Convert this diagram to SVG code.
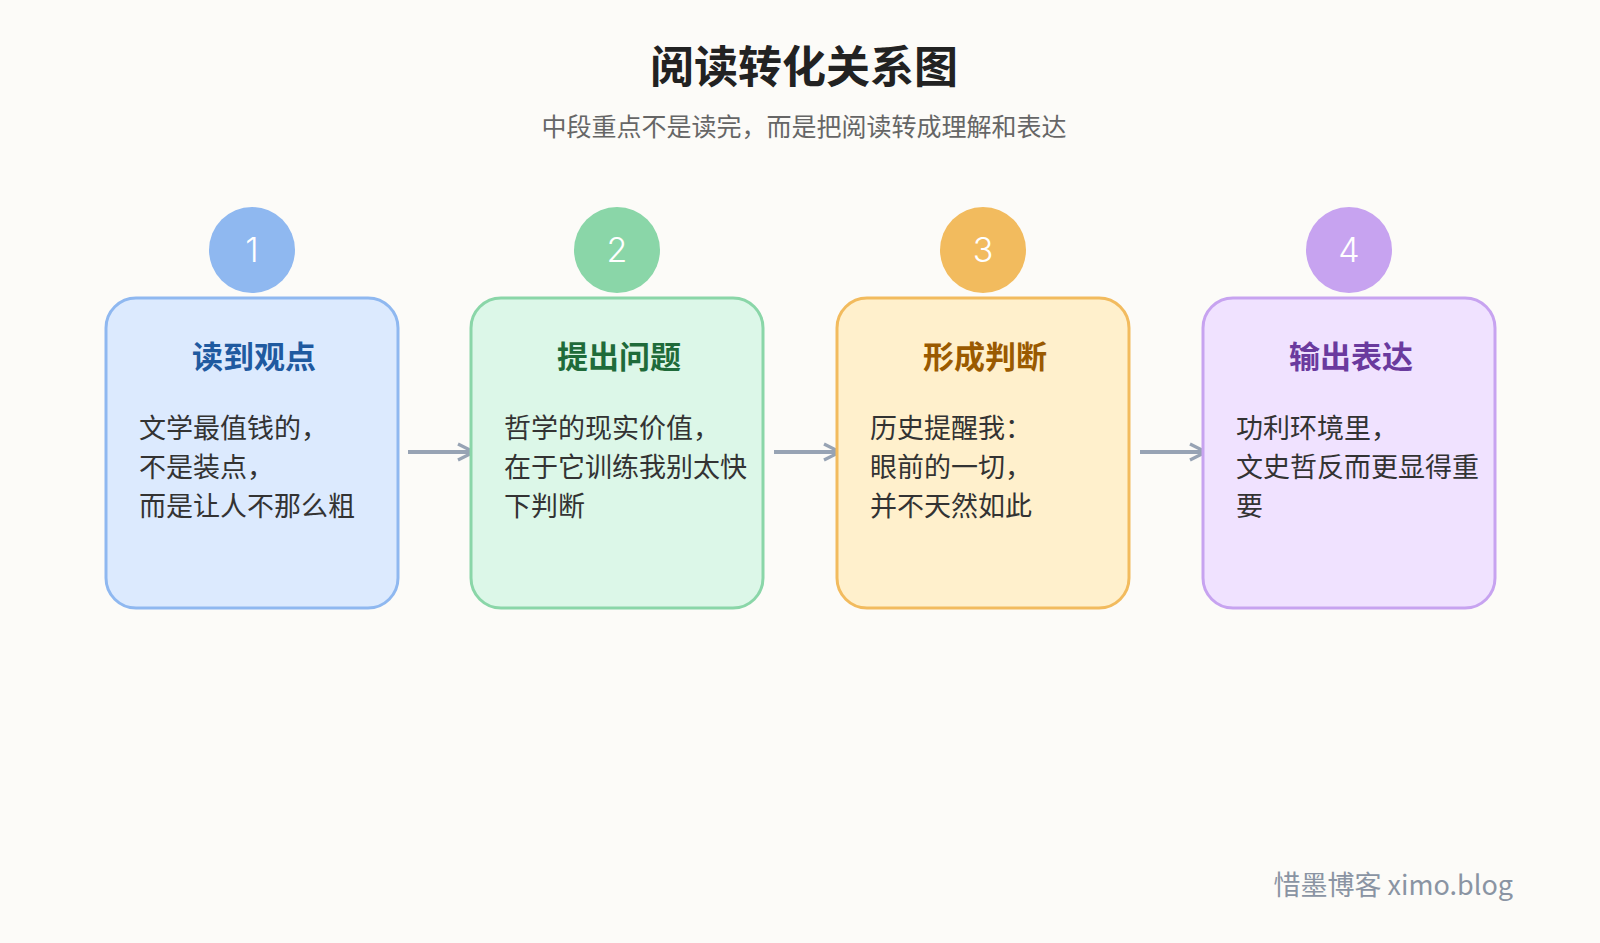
<svg xmlns="http://www.w3.org/2000/svg" width="1600" height="943" viewBox="0 0 1600 943">
<defs>
<style>
text{font-family:"Noto Sans CJK SC","Noto Sans",sans-serif}
.t{font-size:44px;font-weight:700;fill:#222;text-anchor:middle}
.s{font-size:25px;fill:#666;text-anchor:middle}
.h{font-size:31px;font-weight:700;text-anchor:middle}
.b{font-size:27px;fill:#333}
.n{font-size:34px;fill:#fff;text-anchor:middle;font-family:"Inter","Noto Sans",sans-serif;font-weight:300}
.box{stroke-width:3}
.c{stroke:#97a3b4;stroke-width:4;fill:none}
</style>
<marker id="a" viewBox="0 0 10 10" refX="9" refY="5" markerWidth="5" markerHeight="5" orient="auto"><path d="M1 1L9 5L1 9" fill="none" stroke="#97a3b4" stroke-width="1.6"/></marker>
</defs>
<rect width="1600" height="943" fill="#fcfbf8"/>
<text class="t" x="804" y="83">阅读转化关系图</text>
<text class="s" x="804" y="136">中段重点不是读完，而是把阅读转成理解和表达</text>
<g id="connectors">
<line class="c" x1="408" y1="452" x2="474" y2="452" marker-end="url(#a)"/>
<line class="c" x1="774" y1="452" x2="840" y2="452" marker-end="url(#a)"/>
<line class="c" x1="1140" y1="452" x2="1206" y2="452" marker-end="url(#a)"/>
</g>
<g id="n1">
<rect class="box" x="106" y="298" width="292" height="310" rx="30" fill="#dceafe" stroke="#8fb8f0"/>
<circle cx="252" cy="250" r="43" fill="#8fb8f0"/>
<text class="n" x="252" y="262">1</text>
<text class="h" x="254" y="368" fill="#1f5aa0">读到观点</text>
<text class="b" x="139" y="438">文学最值钱的，</text>
<text class="b" x="139" y="477">不是装点，</text>
<text class="b" x="139" y="516">而是让人不那么粗</text>
</g>
<g id="n2">
<rect class="box" x="471" y="298" width="292" height="310" rx="30" fill="#dcf7e8" stroke="#8ad6a8"/>
<circle cx="617" cy="250" r="43" fill="#8ad6a8"/>
<text class="n" x="617" y="262">2</text>
<text class="h" x="619" y="368" fill="#1f6b3a">提出问题</text>
<text class="b" x="504" y="438">哲学的现实价值，</text>
<text class="b" x="504" y="477">在于它训练我别太快</text>
<text class="b" x="504" y="516">下判断</text>
</g>
<g id="n3">
<rect class="box" x="837" y="298" width="292" height="310" rx="30" fill="#fff0cc" stroke="#f2bb5e"/>
<circle cx="983" cy="250" r="43" fill="#f2bb5e"/>
<text class="n" x="983" y="262">3</text>
<text class="h" x="985" y="368" fill="#9a5a00">形成判断</text>
<text class="b" x="870" y="438">历史提醒我：</text>
<text class="b" x="870" y="477">眼前的一切，</text>
<text class="b" x="870" y="516">并不天然如此</text>
</g>
<g id="n4">
<rect class="box" x="1203" y="298" width="292" height="310" rx="30" fill="#f0e2ff" stroke="#c7a3f0"/>
<circle cx="1349" cy="250" r="43" fill="#c7a3f0"/>
<text class="n" x="1349" y="262">4</text>
<text class="h" x="1351" y="368" fill="#6a3a9e">输出表达</text>
<text class="b" x="1236" y="438">功利环境里，</text>
<text class="b" x="1236" y="477">文史哲反而更显得重</text>
<text class="b" x="1236" y="516">要</text>
</g>
<text x="1513" y="895" text-anchor="end" font-size="27" fill="#8a94a3">惜墨博客 ximo.blog</text>
</svg>
